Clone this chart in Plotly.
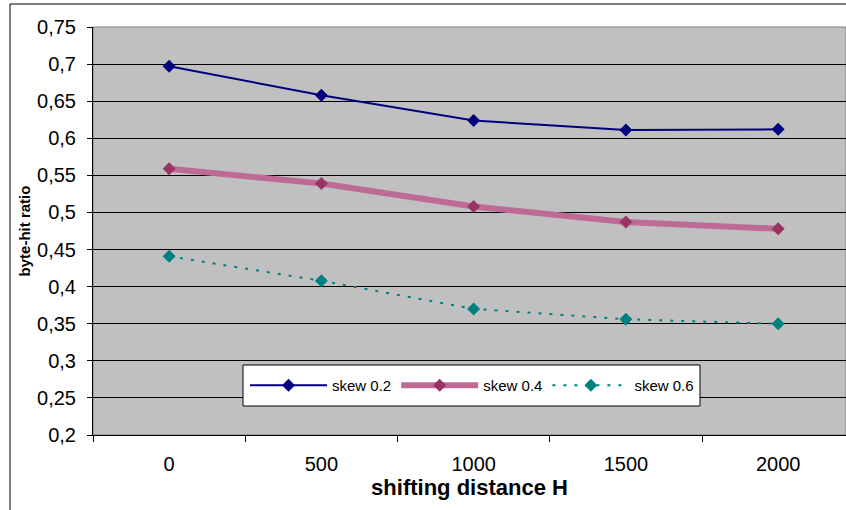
import plotly.graph_objects as go

# Shifting distance H (category labels) and byte-hit ratios per skew value
distances = ["0", "500", "1000", "1500", "2000"]
skew_02 = [0.697, 0.658, 0.624, 0.611, 0.612]
skew_04 = [0.559, 0.539, 0.508, 0.487, 0.478]
skew_06 = [0.441, 0.408, 0.370, 0.356, 0.350]
y_ticks = [0.2, 0.25, 0.3, 0.35, 0.4, 0.45, 0.5, 0.55, 0.6, 0.65, 0.7, 0.75]

FONT = "Arial, Liberation Sans, sans-serif"

fig = go.Figure()

fig.add_trace(go.Scatter(
    x=distances, y=skew_02, name="skew 0.2", mode="lines+markers",
    line=dict(color="#000080", width=2),
    marker=dict(symbol="diamond", size=10, color="#000080"),
))
fig.add_trace(go.Scatter(
    x=distances, y=skew_04, name="skew 0.4", mode="lines+markers",
    line=dict(color="#BE6A96", width=6),
    marker=dict(symbol="diamond", size=10, color="#993366"),
))
fig.add_trace(go.Scatter(
    x=distances, y=skew_06, name="skew 0.6", mode="lines+markers",
    line=dict(color="#008080", width=2, dash="3px,8px"),
    marker=dict(symbol="diamond", size=10, color="#008080"),
))

# plot area spans x 93..846 px, categories are ~152 px wide
PLOT_L, PLOT_R, PLOT_T, PLOT_B = 93, 846, 27, 435
plot_w = PLOT_R - PLOT_L
plot_h = PLOT_B - PLOT_T
cat_w = 152.25
x_hi = -0.5 + plot_w / cat_w


def px_x(px):
    return (px - PLOT_L) / plot_w


def px_y(py):
    return (PLOT_B - py) / plot_h


fig.update_layout(
    width=846, height=510,
    margin=dict(l=PLOT_L, r=846 - PLOT_R, t=PLOT_T, b=510 - PLOT_B),
    paper_bgcolor="white",
    plot_bgcolor="#C0C0C0",
    separators=", ",
    font=dict(family=FONT, color="black", size=20),
    showlegend=True,
    legend=dict(
        orientation="h",
        x=px_x(245), xanchor="left",
        y=px_y(385.5), yanchor="middle",
        bgcolor="rgba(0,0,0,0)", borderwidth=0,
        font=dict(family=FONT, size=15, color="black"),
        itemwidth=77,
        traceorder="normal",
    ),
    xaxis=dict(
        type="category",
        range=[-0.5, x_hi],
        tickson="boundaries",
        ticks="outside", ticklen=6, tickcolor="black",
        showgrid=False,
        showline=True, linecolor="black", linewidth=1,
        tickfont=dict(family=FONT, size=20),
        ticklabelstandoff=11,
        title=dict(text="<b>shifting distance H</b>", font=dict(family=FONT, size=22), standoff=5),
        zeroline=False,
        fixedrange=True,
    ),
    yaxis=dict(
        range=[0.2, 0.75],
        tickvals=y_ticks,
        ticks="outside", ticklen=5, tickcolor="black",
        showgrid=True, gridcolor="black", gridwidth=1,
        showline=True, linecolor="black", linewidth=1,
        tickfont=dict(family=FONT, size=20),
        ticklabelstandoff=7,
        title=dict(text="<b>byte-hit ratio</b>", font=dict(family=FONT, size=15), standoff=2),
        zeroline=False,
        fixedrange=True,
    ),
    shapes=[
        # grey plot-area border
        dict(type="rect", xref="paper", yref="paper", x0=0, x1=1, y0=0, y1=1,
             line=dict(color="#808080", width=1), layer="below"),
        # legend box
        dict(type="rect", xref="paper", yref="paper",
             x0=px_x(243), x1=px_x(700), y0=px_y(406), y1=px_y(365),
             fillcolor="white", line=dict(color="black", width=1), layer="above"),
        # outer chart frame
        dict(type="rect", xref="paper", yref="paper",
             x0=px_x(10), x1=1.2, y0=-0.3, y1=px_y(4),
             line=dict(color="black", width=1), layer="above"),
    ],
)

fig.write_html("out.html", config={"displayModeBar": False})
